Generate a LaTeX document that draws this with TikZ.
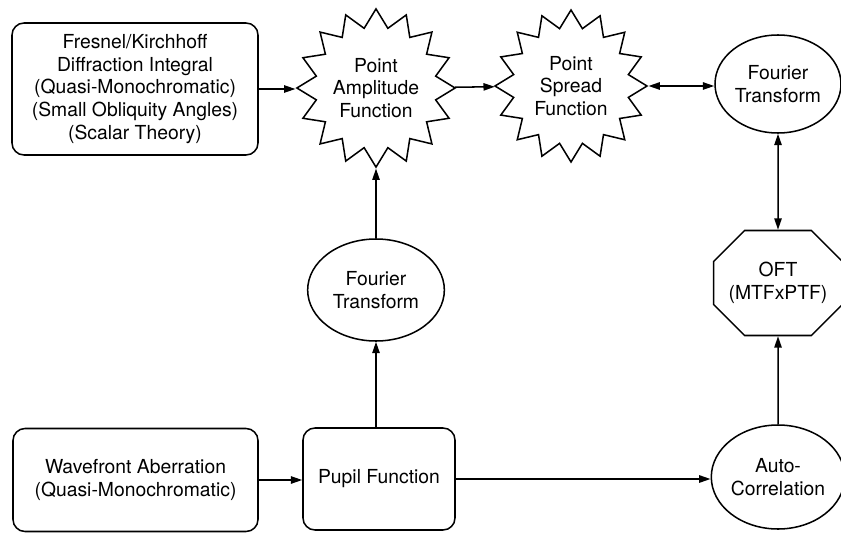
\documentclass[tikz,border=0pt]{standalone}
\usepackage{fontspec}
\setmainfont{TeX Gyre Heros}
\usetikzlibrary{arrows.meta,shapes.geometric,shapes.misc}

\begin{document}
\begin{tikzpicture}[
  x=0.03cm,
  y=-0.03cm,
  line width=1.3pt,
  >={Triangle[length=3.4mm,width=2.2mm]},
  txt/.style={font=\fontsize{16.5}{19.5}\selectfont,align=center,inner sep=0pt},
  roundbox/.style={txt,draw,rounded corners=0.36cm},
  burst/.style={txt,draw,star,star points=16,star point ratio=1.3,minimum size=4.56cm},
  oval/.style={txt,draw,ellipse},
  octo/.style={txt,draw,chamfered rectangle,chamfered rectangle xsep=0.45cm,
    chamfered rectangle ysep=0.48cm}
]
\useasboundingbox (0,0) rectangle (841,534);

% Top row
\node[roundbox,minimum width=7.38cm,minimum height=3.96cm] (fresnel) at (135,89)
  {Fresnel/Kirchhoff\\Diffraction Integral\\(Quasi-Monochromatic)\\(Small Obliquity Angles)\\(Scalar Theory)};
\node[burst] (amp) at (376,88) {Point\\Amplitude\\Function};
\node[burst] (psf) at (571,86) {Point\\Spread\\Function};
\node[oval,minimum width=3.78cm,minimum height=2.94cm] (ftop) at (778,84)
  {Fourier\\Transform};

% Middle
\node[oval,minimum width=4.1cm,minimum height=3.06cm] (fmid) at (376,290)
  {Fourier\\Transform};
\node[octo,minimum width=3.84cm,minimum height=3.15cm] (oft) at (778,283)
  {OFT\\(MTFxPTF)};

% Bottom row
\node[roundbox,minimum width=7.35cm,minimum height=3.09cm] (wave) at (135.5,480)
  {Wavefront Aberration\\(Quasi-Monochromatic)};
\node[roundbox,minimum width=4.56cm,minimum height=3.06cm] (pupil) at (379,479)
  {Pupil Function};
\node[oval,minimum width=3.72cm,minimum height=3.12cm] (auto) at (778,477)
  {Auto-\\Correlation};

% Connectors
\draw[->] (fresnel.east) -- (fresnel.east -| amp.west);
\draw[->] (amp) -- (psf);
\draw[<->] (psf.east) -- (ftop.west |- psf.east);
\draw[<->] (ftop) -- (oft);
\draw[->] (auto) -- (oft);
\draw[->] (wave.east) -- (wave.east -| pupil.west);
\draw[->] (pupil.east) -- (pupil.east -| auto.west);
\draw[->] (pupil.north -| fmid.south) -- (fmid.south);
\draw[->] (fmid) -- (amp);

\end{tikzpicture}
\end{document}
